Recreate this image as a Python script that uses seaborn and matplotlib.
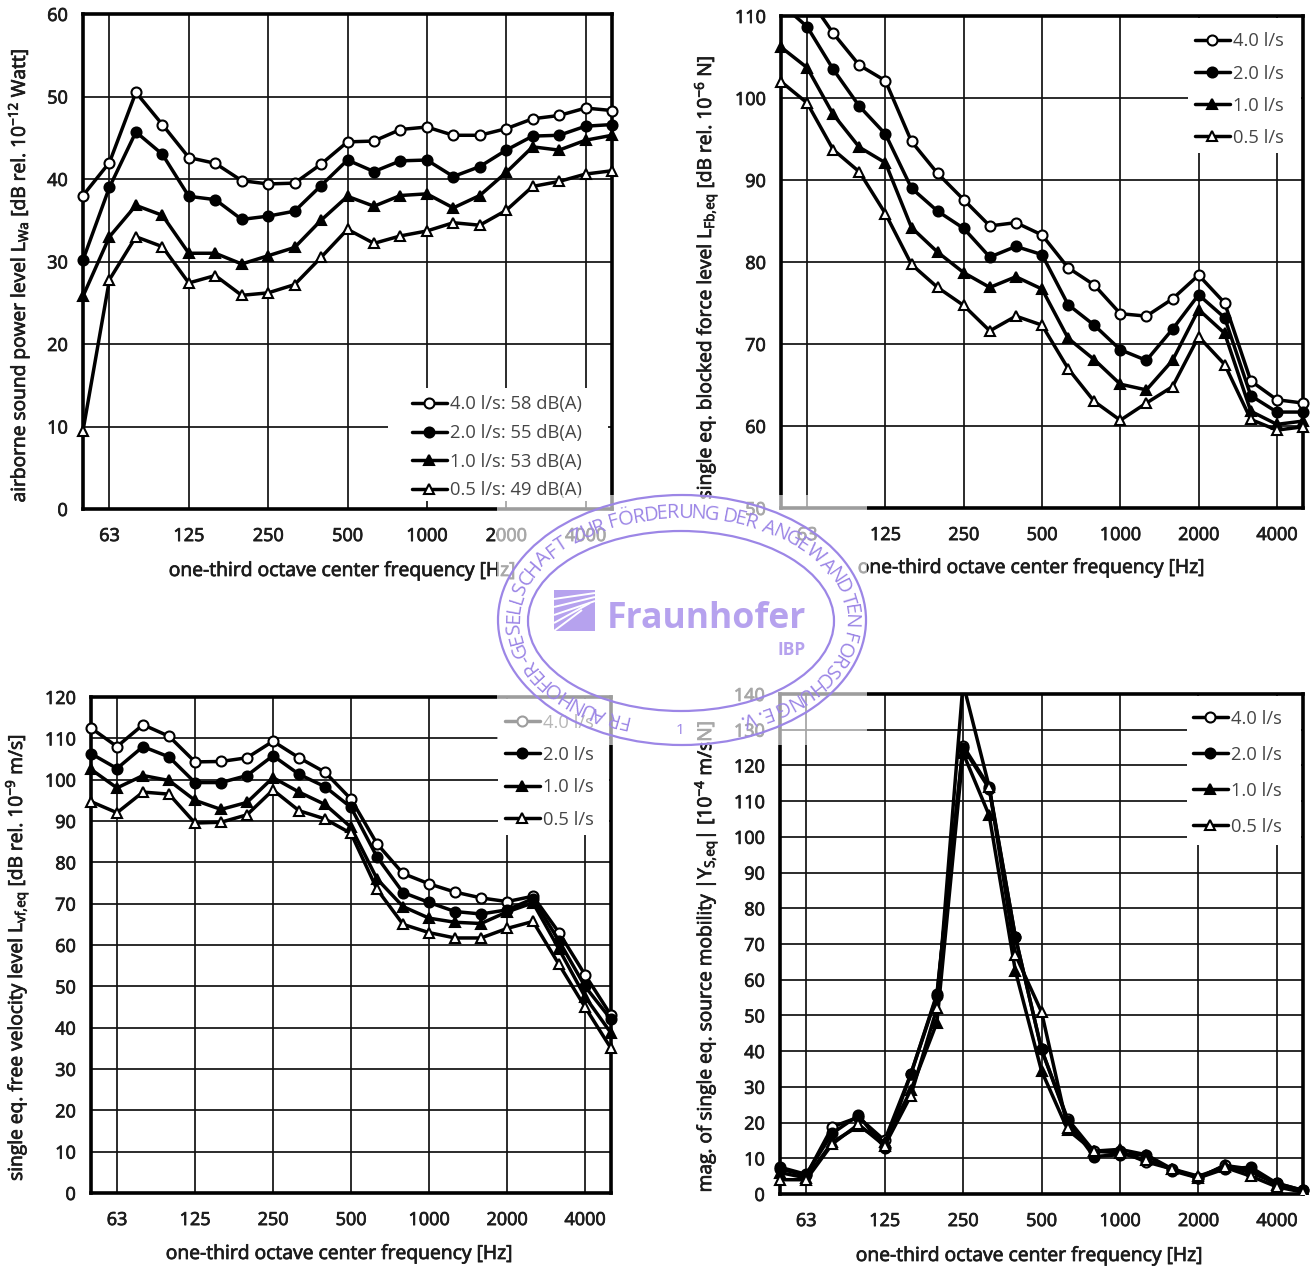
import numpy as np
import matplotlib
matplotlib.use("Agg")
import matplotlib.pyplot as plt
import matplotlib.patheffects as pe
import seaborn as sns
from matplotlib.patches import Ellipse, Rectangle
from matplotlib.textpath import TextPath
from matplotlib.font_manager import FontProperties
from matplotlib.transforms import Bbox, TransformedBbox

# Data
bands = [50, 63, 80, 100, 125, 160, 200, 250, 315, 400, 500, 630, 800, 1000,
         1250, 1600, 2000, 2500, 3150, 4000, 5000]
octave_ticks = [63, 125, 250, 500, 1000, 2000, 4000]
flow_rates = ["4.0 l/s", "2.0 l/s", "1.0 l/s", "0.5 l/s"]
dba_levels = ["58 dB(A)", "55 dB(A)", "53 dB(A)", "49 dB(A)"]

sound_40 = [38, 42, 50.5, 46.6, 42.6, 41.9, 39.8, 39.4, 39.5, 41.8, 44.5, 44.6, 46, 46.3, 45.3, 45.3, 46.1, 47.3, 47.7, 48.6, 48.3]
sound_20 = [30.2, 39, 45.7, 43, 37.9, 37.5, 35.1, 35.5, 36.1, 39.2, 42.3, 40.9, 42.2, 42.3, 40.3, 41.5, 43.5, 45.2, 45.3, 46.4, 46.6]
sound_10 = [25.8, 33, 36.8, 35.6, 31, 31, 29.7, 30.7, 31.7, 35, 37.9, 36.7, 38, 38.2, 36.5, 38, 40.8, 43.9, 43.5, 44.7, 45.3]
sound_05 = [9.5, 27.8, 33, 31.8, 27.4, 28.3, 25.9, 26.2, 27.2, 30.5, 33.9, 32.2, 33.1, 33.7, 34.7, 34.4, 36.2, 39.1, 39.7, 40.6, 41]

force_40 = [115, 112.5, 107.9, 104, 102.1, 94.7, 90.8, 87.6, 84.4, 84.8, 83.3, 79.3, 77.2, 73.7, 73.4, 75.5, 78.4, 75, 65.5, 63.2, 62.8]
force_20 = [111.5, 108.7, 103.5, 99, 95.6, 89, 86.2, 84.1, 80.6, 81.9, 80.9, 74.8, 72.3, 69.3, 68, 71.8, 76, 73.2, 63.7, 61.7, 61.7]
force_10 = [106.2, 103.7, 98, 94, 92.1, 84.2, 81.2, 78.7, 76.9, 78.2, 76.7, 70.7, 68.1, 65.1, 64.4, 68, 74.2, 71.3, 61.8, 60.2, 60.6]
force_05 = [102, 99.4, 93.7, 91, 85.9, 79.7, 76.9, 74.7, 71.6, 73.4, 72.3, 67, 63, 60.7, 62.8, 64.8, 70.9, 67.5, 60.8, 59.5, 59.9]

velocity_40 = [112.5, 108, 113.3, 110.5, 104.3, 104.4, 105.3, 109.3, 105.3, 101.8, 95.3, 84.5, 77.3, 74.8, 72.8, 71.4, 70.5, 71.8, 63, 52.8, 43]
velocity_20 = [106.3, 102.7, 108, 105.5, 99.3, 99.3, 101, 105.8, 101.3, 98.3, 93.3, 81.3, 72.7, 70.3, 68.1, 67.5, 68.5, 71.2, 61, 50, 42]
velocity_10 = [102.5, 98, 101, 99.8, 95, 92.8, 94.5, 100.5, 97, 94, 88.5, 76, 69.3, 66.5, 65.5, 65.2, 68, 70.2, 59, 47.5, 38.7]
velocity_05 = [94.7, 92, 97, 96.5, 89.5, 89.7, 91.5, 97.5, 92.5, 90.5, 87, 73.5, 65, 63, 61.7, 61.7, 64, 65.7, 55.3, 45, 35]

mobility_40 = [7, 5.2, 18.8, 21.5, 15, 33.5, 55.5, 125.5, 114, 72, 40.5, 21, 12, 12, 9, 7, 4.5, 8, 6, 3, 1]
mobility_20 = [7.5, 5.5, 17, 22, 13, 33.5, 56, 125, 113.5, 72, 40.5, 20.5, 10.5, 11, 11, 6.5, 4.5, 7, 7.5, 3, 1]
mobility_10 = [6, 4.5, 14.5, 19, 14.5, 29, 48, 123.5, 106, 62.5, 34.5, 18, 12, 12.5, 11, 7, 4.5, 8, 7, 2.5, 1]
mobility_05 = [4, 4, 14, 19.5, 13.5, 27.5, 52, 143, 114, 67, 51, 18.5, 12, 11.5, 9.5, 7, 5, 7.5, 5, 2, 0.5]

stamp_text = "FRAUNHOFER-GESELLSCHAFT ZUR FÖRDERUNG DER ANGEWANDTEN FORSCHUNG E.V."

# Style
W, H = 1313, 1267
sns.set_theme(style="white")
plt.rcParams["font.family"] = ["Open Sans", "DejaVu Sans"]
plt.rcParams["mathtext.fontset"] = "custom"
plt.rcParams["mathtext.rm"] = "Open Sans"
plt.rcParams["mathtext.default"] = "rm"

TEXT = "#1c1c1c"
HEAVY = [pe.withStroke(linewidth=0.55, foreground=TEXT)]
marker_styles = [("o", "white", 7.2), ("o", "black", 7.2), ("^", "black", 6.8), ("^", "white", 6.8)]

fig = plt.figure(figsize=(W / 100, H / 100), dpi=100, facecolor="white")


def draw_panel(series, ylim, ystep, ylabel, labels, box, legend_box, row_top, row_gap,
               ylabel_pos, xlabel_pos):
    left, top, right, bottom = box
    ax = fig.add_axes([left / W, 1 - bottom / H, (right - left) / W, (bottom - top) / H])
    x = np.arange(len(bands))
    for vals, label, (marker, face, msize) in zip(series, labels, marker_styles):
        sns.lineplot(x=x, y=vals, ax=ax, color="black", linewidth=2.5, marker=marker,
                     markersize=msize, markerfacecolor=face, markeredgecolor="black",
                     markeredgewidth=1.5, label=label, zorder=3)

    ax.set_xlim(0, len(bands) - 1)
    ax.set_ylim(*ylim)
    ax.set_xticks([bands.index(f) for f in octave_ticks])
    ax.set_xticklabels(octave_ticks)
    ax.set_yticks(np.arange(ylim[0], ylim[1] + 1, ystep))
    ax.tick_params(length=0, labelsize=13, labelcolor=TEXT, pad=11)
    ax.tick_params(axis="x", pad=13)
    for lab in ax.get_xticklabels() + ax.get_yticklabels():
        lab.set_path_effects(HEAVY)
    ax.grid(True, color="#111111", linewidth=1.25)
    ax.set_axisbelow(True)
    for spine in ax.spines.values():
        spine.set_visible(True)
        spine.set_color("black")
        spine.set_linewidth(2.6)

    # markers on the edge stay whole, anything over the top is cut off
    clip = TransformedBbox(Bbox([[-0.03, 0], [1.03, 1]]), ax.transAxes)
    for line in ax.get_lines():
        line.set_clip_box(clip)

    # white block behind the legend interrupts the grid
    lx0, ly0, lx1, ly1 = legend_box
    ax.add_patch(Rectangle(((lx0 - left) / (right - left), (bottom - ly1) / (bottom - top)),
                           (lx1 - lx0) / (right - left), (ly1 - ly0) / (bottom - top),
                           transform=ax.transAxes, facecolor="white", edgecolor="none", zorder=1.5))
    leg = ax.legend(loc="upper left",
                    bbox_to_anchor=((row_top[0] - left) / (right - left), (bottom - row_top[1]) / (bottom - top)),
                    frameon=False, borderpad=0, borderaxespad=0, fontsize=13.2,
                    handlelength=1.9, handletextpad=0.18, labelspacing=row_gap, labelcolor="#454545")
    leg.set_zorder(5)

    ax.set_xlabel("one-third octave center frequency [Hz]", fontsize=13.9, color=TEXT, path_effects=HEAVY)
    ax.set_ylabel(ylabel, fontsize=13.8, color=TEXT, path_effects=HEAVY)
    ax.xaxis.set_label_coords((xlabel_pos[0] - left) / (right - left), (bottom - xlabel_pos[1]) / (bottom - top))
    ax.yaxis.set_label_coords((ylabel_pos[0] - left) / (right - left), (bottom - ylabel_pos[1]) / (bottom - top))
    ax.xaxis.label.set_va("center")
    ax.yaxis.label.set_va("center")
    return ax


labels_dba = [f"{f}: {d}" for f, d in zip(flow_rates, dba_levels)]

draw_panel([sound_40, sound_20, sound_10, sound_05], (0, 60), 10,
           r"airborne sound power level L$_{Wa}$ [dB rel. 10$^{-12}$ Watt]", labels_dba,
           (83, 14, 612, 509), (388, 388, 608, 501), (412, 395.5), 0.58, (19, 276), (342, 571))
draw_panel([force_40, force_20, force_10, force_05], (50, 110), 10,
           r"single eq. blocked force level L$_{Fb,\!eq}$ [dB rel. 10$^{-6}$ N]", flow_rates,
           (781, 16, 1303, 508), (1188, 18, 1301, 153), (1195, 32.5), 0.77, (706, 278), (1031, 568))
draw_panel([velocity_40, velocity_20, velocity_10, velocity_05], (0, 120), 10,
           r"single eq. free velocity level L$_{vf,\!eq}$ [dB rel. 10$^{-9}$ m/s]", flow_rates,
           (91, 697, 611, 1193), (498, 699, 609, 835), (505, 713.5), 0.785, (17, 958), (339, 1254))
draw_panel([mobility_40, mobility_20, mobility_10, mobility_05], (0, 140), 10,
           r"mag. of single eq. source mobility |Y$_{S,\!eq}$| [10$^{-4}$ m/sN]", flow_rates,
           (780, 694, 1303, 1194), (1187, 696, 1301, 845), (1193, 709.5), 0.987, (706, 957), (1029, 1256))

# Stamp drawn over the charts, in image pixels
over = fig.add_axes([0, 0, 1, 1], zorder=10)
over.set_xlim(0, W)
over.set_ylim(H, 0)
over.axis("off")
over.patch.set_alpha(0)
STAMP = "#9c86e6"
LOGO = "#b6a2ee"

over.add_patch(Rectangle((497, 495), 370, 250, facecolor="white", edgecolor="none", alpha=0.62))
cx, cy = 682, 620
over.add_patch(Ellipse((cx, cy), 368, 250, fill=False, edgecolor=STAMP, linewidth=1.6))
over.add_patch(Ellipse((cx - 1, cy + 1), 306, 180, fill=False, edgecolor=STAMP, linewidth=1.6))

# lettering around the ring, spaced by glyph width
fp = FontProperties(family="Open Sans")
size = 14.5
widths = np.array([TextPath((0, 0), ch, size=size, prop=fp).get_extents().width + 1.2 if ch != " " else 3.5
                   for ch in stamp_text])
t = np.radians(np.linspace(109, 430, 4000))
a, b = 168, 107
px = cx + a * np.cos(t)
py = cy + b * np.sin(t)
arc = np.concatenate([[0], np.cumsum(np.hypot(np.diff(px), np.diff(py)))])
pos = np.cumsum(widths) - widths / 2
pos = pos / (pos[-1] + widths[-1] / 2) * arc[-1]
for ch, s in zip(stamp_text, pos):
    i = np.searchsorted(arc, s)
    i = min(i, len(t) - 1)
    rot = np.degrees(np.arctan2(-b * np.cos(t[i]), -a * np.sin(t[i])))
    over.text(px[i], py[i], ch, rotation=rot, rotation_mode="anchor", ha="center", va="center",
              fontsize=size, color=STAMP)

# logo block with fanned white stripes
over.add_patch(Rectangle((554, 590), 41, 41, facecolor=LOGO, edgecolor="none"))
for (y0, x1, y1) in [(599, 595, 593), (607, 595, 597), (615, 595, 601), (623, 590, 603), (631, 582, 610)]:
    over.plot([554, x1], [y0, y1], color="white", linewidth=1.4, solid_capstyle="butt")
over.text(607, 619, "Fraunhofer", fontsize=25.7, fontweight="bold", color=LOGO, ha="left", va="center")
over.text(792, 650, "IBP", fontsize=12.5, fontweight="bold", color=LOGO, ha="center", va="center")
over.text(680, 730, "1", fontsize=11, color=STAMP, ha="center", va="center")

fig.savefig("out.png", dpi=100)
